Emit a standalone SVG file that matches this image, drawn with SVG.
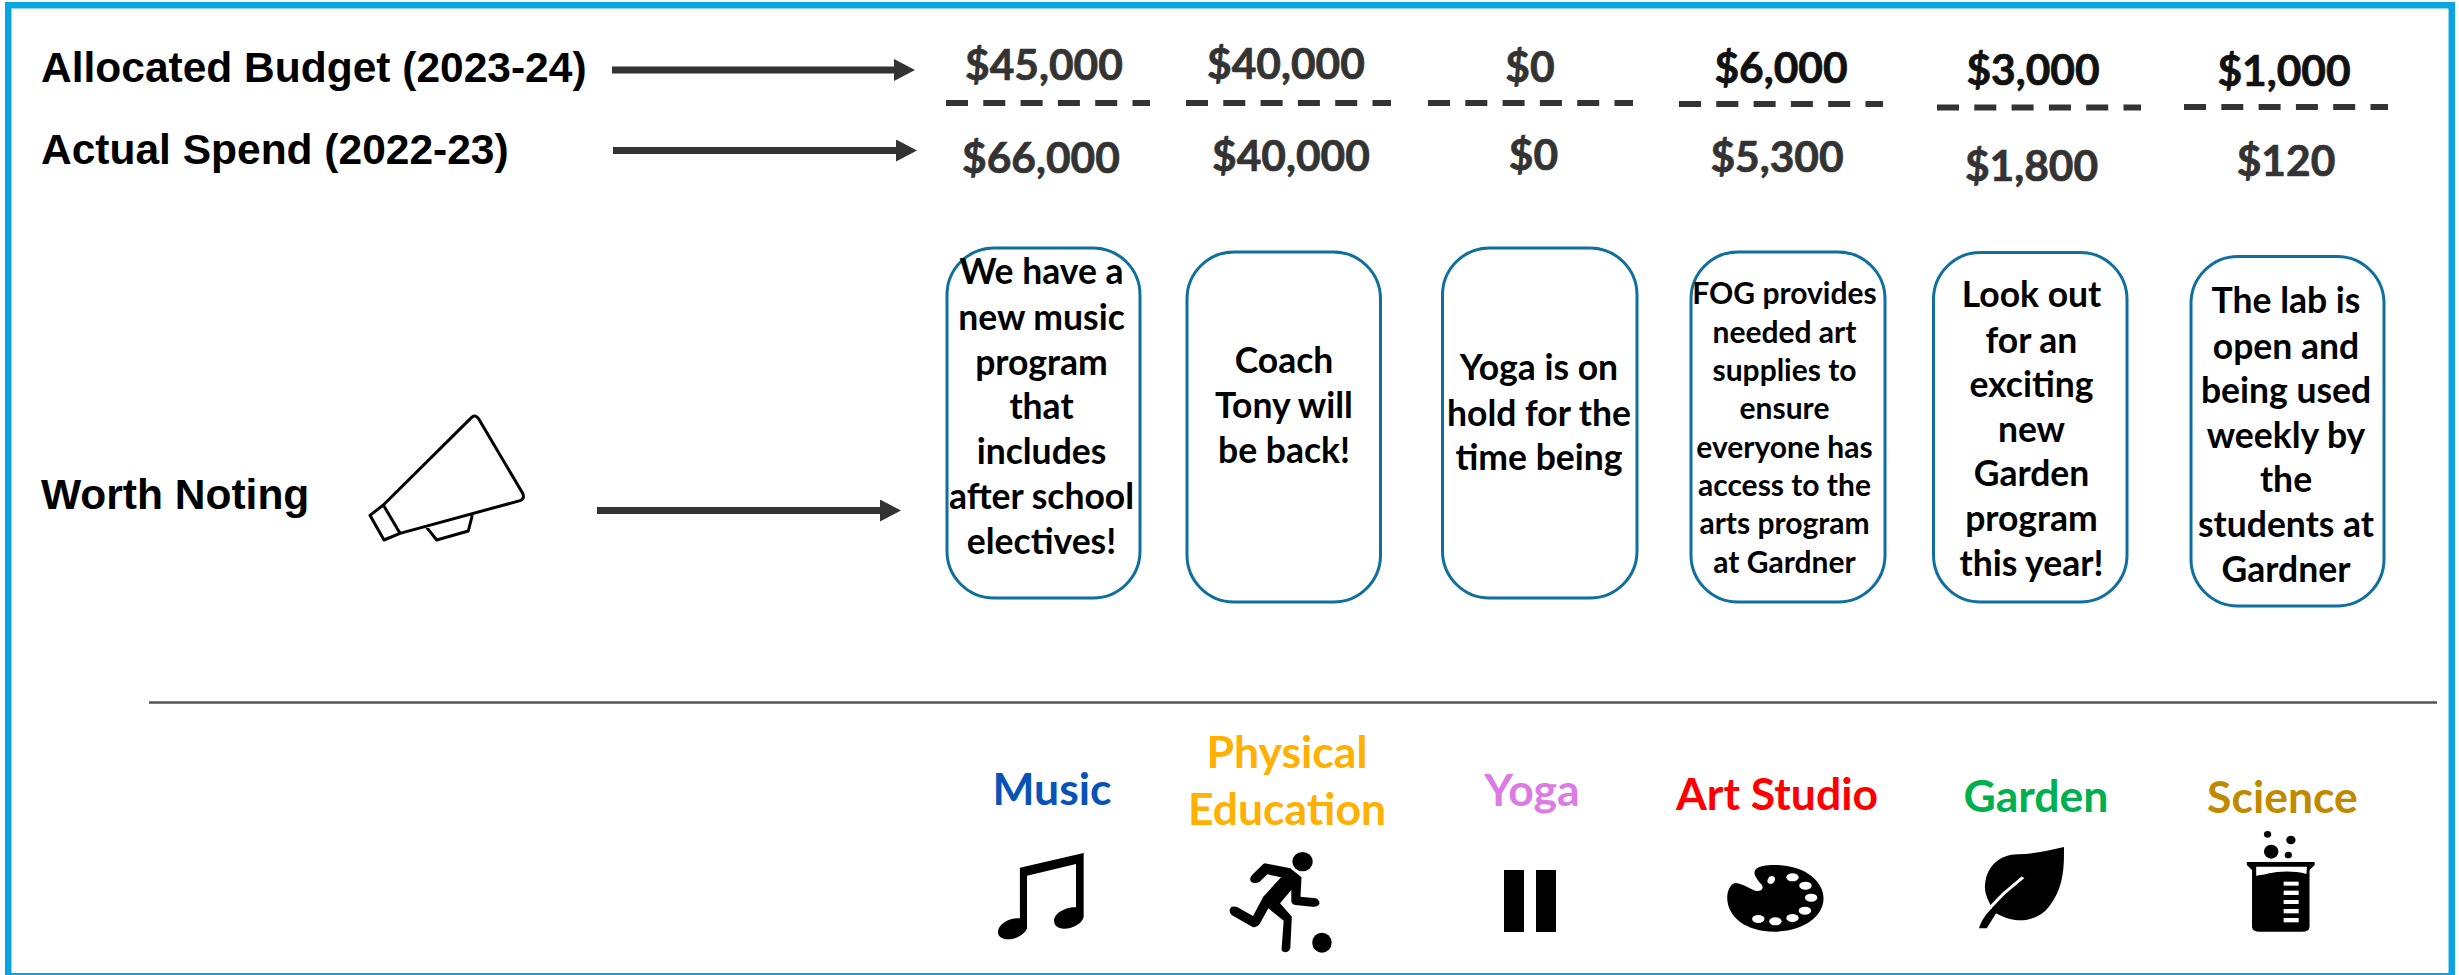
<svg xmlns="http://www.w3.org/2000/svg" width="2459" height="975" viewBox="0 0 2459 975">
<style>
.lab{font-family:"Liberation Sans",Arial,sans-serif;font-weight:700;font-size:42.5px;fill:#000}
.val{font-family:Lato,"Open Sans",sans-serif;font-weight:700;font-size:42.5px;fill:#333;stroke:#333;stroke-width:.7;text-anchor:middle;transform:translateY(1px)}
.dk{fill:#111;stroke:#111}
.note{font-family:Lato,"Open Sans",sans-serif;font-weight:700;font-size:35.5px;fill:#000;text-anchor:middle;transform:translateY(1.5px)}
.sm{font-size:30px}
.cat{font-family:Lato,"Open Sans",sans-serif;font-weight:700;font-size:44.5px;text-anchor:middle;transform:translateY(2px)}
.box{fill:#fff;stroke:#0f6f9e;stroke-width:3}
.dash{stroke:#333;stroke-width:6;stroke-dasharray:22 15.3;fill:none}
.arr{stroke:#333;stroke-width:7;fill:none}
.ico{fill:#000}
</style>
<defs>
<marker id="head" markerUnits="userSpaceOnUse" markerWidth="22" markerHeight="22" refX="0" refY="11" orient="auto"><path d="M0 0L21 11L0 22Z" fill="#333"/></marker>
</defs>
<rect x="8.200" y="5.200" width="2443.600" height="971" fill="#fff" stroke="#0aa5e0" stroke-width="6.500"/>
<g id="row-labels">
<text class="lab" x="41" y="82">Allocated Budget (2023-24)</text>
<text class="lab" x="41" y="164">Actual Spend (2022-23)</text>
<text class="lab" x="41" y="509">Worth Noting</text>
</g>
<g id="connectors">
<line class="arr" x1="612" y1="70" x2="894" y2="70" marker-end="url(#head)"/>
<line class="arr" x1="613" y1="150.500" x2="896" y2="150.500" marker-end="url(#head)"/>
<line class="arr" x1="597" y1="510.500" x2="880" y2="510.500" marker-end="url(#head)"/>
</g>
<g id="megaphone" fill="none" stroke="#000" stroke-linejoin="round" transform="translate(340,390) scale(.33333)">
<path stroke-width="9" d="M130 345L395 82Q405 72 415 85L548 310Q555 325 540 332L180 430ZM130 345L90 376L132 450L180 430M260 412L290 450L385 423L397 375"/>
</g>
<g id="col-music">
<text class="val" x="1044" y="79">$45,000</text>
<line class="dash" x1="946" y1="103" x2="1150" y2="103"/>
<text class="val" x="1041" y="172">$66,000</text>
<rect class="box" x="947" y="248" width="193" height="350" rx="47"/>
<text class="note" x="1041.500" y="282.500">We have a</text>
<text class="note" x="1041.500" y="328">new music</text>
<text class="note" x="1041.500" y="373">program</text>
<text class="note" x="1041.500" y="417.500">that</text>
<text class="note" x="1041.500" y="462">includes</text>
<text class="note" x="1041.500" y="507">after school</text>
<text class="note" x="1041.500" y="552">electives!</text>
<text class="cat" x="1052" y="803" fill="#0753b8">Music</text>
<g class="ico" transform="translate(900,700) scale(.5102,.33333)">
<path d="M235 503L360 459V650C358 668 340 686 322 686C308 686 302 675 302 662C302 640 325 620 345 622V492L249 527V685C245 702 228 718 212 718C198 718 192 707 192 695C193 672 215 652 235 655Z"/>
</g>
</g>
<g id="col-pe">
<text class="val" x="1286" y="78">$40,000</text>
<line class="dash" x1="1186" y1="103" x2="1391" y2="103"/>
<text class="val" x="1291" y="170">$40,000</text>
<rect class="box" x="1187" y="252" width="193.500" height="350" rx="47"/>
<text class="note" x="1284" y="371.500">Coach</text>
<text class="note" x="1284" y="416">Tony will</text>
<text class="note" x="1284" y="461">be back!</text>
<text class="cat" x="1287" y="766" fill="#ffb000">Physical</text>
<text class="cat" x="1287" y="823" fill="#ffb000">Education</text>
<g class="ico" transform="translate(900,700) scale(.5102,.33333)">
<ellipse cx="789" cy="485" rx="20" ry="29"/>
<ellipse cx="827" cy="728" rx="19" ry="30"/>
<path d="M715 490L765 505L787 532L785 590L815 595Q823 600 822 612Q818 622 808 620L775 615Q766 612 767 600L767 570L745 610L768 650L765 745Q762 757 755 757Q747 755 748 745L752 662L722 625L705 672Q698 686 690 680L650 645Q642 632 650 620Q660 617 665 625L692 648L712 590L747 532L720 523L705 545Q695 553 688 545Q684 535 690 525L712 492Z"/>
</g>
</g>
<g id="col-yoga">
<text class="val" x="1530" y="81">$0</text>
<line class="dash" x1="1428" y1="103" x2="1633" y2="103"/>
<text class="val" x="1533.500" y="169">$0</text>
<rect class="box" x="1442.500" y="248" width="194.500" height="350" rx="47"/>
<text class="note" x="1539" y="378.500">Yoga is on</text>
<text class="note" x="1539" y="424">hold for the</text>
<text class="note" x="1539" y="468">time being</text>
<text class="cat" x="1532" y="804" fill="#db7be3">Yoga</text>
<g class="ico">
<rect x="1504" y="870" width="20" height="62"/>
<rect x="1536" y="870" width="20" height="62"/>
</g>
</g>
<g id="col-art">
<text class="val dk" x="1781" y="82">$6,000</text>
<line class="dash" x1="1679" y1="104" x2="1883" y2="104"/>
<text class="val" x="1777" y="171">$5,300</text>
<rect class="box" x="1691" y="252" width="194" height="350" rx="47"/>
<text class="note sm" x="1784.500" y="302">FOG provides</text>
<text class="note sm" x="1784.500" y="341">needed art</text>
<text class="note sm" x="1784.500" y="379">supplies to</text>
<text class="note sm" x="1784.500" y="417">ensure</text>
<text class="note sm" x="1784.500" y="456">everyone has</text>
<text class="note sm" x="1784.500" y="494">access to the</text>
<text class="note sm" x="1784.500" y="532">arts program</text>
<text class="note sm" x="1784.500" y="571">at Gardner</text>
<text class="cat" x="1777" y="808" fill="#ff0000">Art Studio</text>
<g transform="translate(1650,700) scale(.5181,.33333)">
<path class="ico" d="M240 495C300 495 335 545 335 595C335 650 295 695 240 695C185 695 148 650 149 590C150 570 155 552 165 549C175 549 195 568 205 573C215 575 220 565 216 555C208 540 198 525 203 510C208 498 225 495 240 495Z"/>
<g fill="#fff">
<circle cx="275" cy="532" r="12"/><circle cx="300" cy="557" r="12"/><circle cx="311" cy="593" r="12"/><circle cx="299" cy="632" r="12"/><circle cx="275" cy="654" r="12"/><circle cx="242" cy="664" r="12"/><circle cx="209" cy="657" r="12"/>
<ellipse cx="234" cy="540" rx="7" ry="12" transform="rotate(15 234 540)"/>
</g>
</g>
</g>
<g id="col-garden">
<text class="val dk" x="2033" y="84">$3,000</text>
<line class="dash" x1="1937" y1="107.500" x2="2141" y2="107.500"/>
<text class="val" x="2031.500" y="180">$1,800</text>
<rect class="box" x="1933.500" y="252.500" width="193.500" height="349.500" rx="47"/>
<text class="note" x="2031.500" y="305.500">Look out</text>
<text class="note" x="2031.500" y="351">for an</text>
<text class="note" x="2031.500" y="395">exciting</text>
<text class="note" x="2031.500" y="440">new</text>
<text class="note" x="2031.500" y="484.500">Garden</text>
<text class="note" x="2031.500" y="529.500">program</text>
<text class="note" x="2031.500" y="574">this year!</text>
<text class="cat" x="2036" y="810" fill="#00b050">Garden</text>
<g transform="translate(1650,700) scale(.5181,.33333)">
<path class="ico" d="M799 441C800 520 795 570 770 620C755 650 730 665 705 660C690 657 680 650 668 640L650 685H635C640 660 650 640 660 625L655 608C648 585 645 570 647 550C650 500 675 463 710 463C740 462 770 452 799 441Z"/>
<path d="M720 532L683 580L655 625" fill="none" stroke="#fff" stroke-width="7"/>
</g>
</g>
<g id="col-science">
<text class="val dk" x="2284" y="85">$1,000</text>
<line class="dash" x1="2184" y1="107" x2="2388" y2="107"/>
<text class="val" x="2286" y="175">$120</text>
<rect class="box" x="2191" y="256.500" width="193" height="349.500" rx="47"/>
<text class="note" x="2286" y="311.500">The lab is</text>
<text class="note" x="2286" y="357">open and</text>
<text class="note" x="2286" y="401">being used</text>
<text class="note" x="2286" y="446">weekly by</text>
<text class="note" x="2286" y="490.500">the</text>
<text class="note" x="2286" y="535">students at</text>
<text class="note" x="2286" y="580">Gardner</text>
<text class="cat" x="2282.500" y="811" fill="#c08a00">Science</text>
<g transform="translate(1650,700) scale(.5181,.33333)">
<g class="ico">
<ellipse cx="1192" cy="403" rx="7" ry="10"/><ellipse cx="1237" cy="420" rx="9" ry="13"/><ellipse cx="1199" cy="455" rx="14" ry="21"/><ellipse cx="1232" cy="465" rx="7" ry="10"/>
<path d="M1152 486H1283V495L1273 510V680Q1273 695 1258 695H1177Q1162 695 1162 680V510L1152 495Z"/>
</g>
<g fill="#fff">
<path d="M1170 500H1268L1267 522C1240 510 1210 515 1195 520C1185 525 1178 525 1170 527Z"/>
<rect x="1223" y="545" width="29" height="12"/><rect x="1223" y="572" width="29" height="13"/><rect x="1223" y="600" width="29" height="12"/><rect x="1223" y="627" width="29" height="13"/><rect x="1223" y="654" width="29" height="13"/>
</g>
</g>
</g>
<line id="divider" x1="149" y1="702.500" x2="2437" y2="702.500" stroke="#555" stroke-width="2.500"/>
</svg>
